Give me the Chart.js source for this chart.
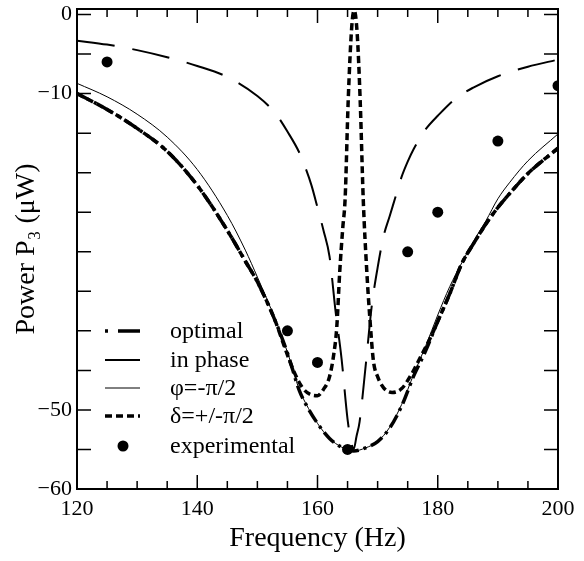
<!DOCTYPE html>
<html>
<head>
<meta charset="utf-8">
<script src="https://cdn.jsdelivr.net/npm/chart.js@4.4.1/dist/chart.umd.min.js"></script>
<style>
  html, body { margin: 0; padding: 0; background: #fff; }
</style>
</head>
<body>
<canvas id="chart" width="584" height="561"></canvas>
<script>
// values
const freqOptimal = [120, 125, 130, 135, 140, 145, 148, 150, 153, 155, 157, 158, 160, 162, 164, 166, 168, 170, 172, 174, 176, 178, 180, 182, 184, 186, 188, 190, 192, 195, 200];
const powerOptimal = [-10, -12, -14.4, -17.3, -21.6, -27.3, -31.2, -33.8, -38.8, -42.8, -47.6, -49.2, -51.7, -53.6, -54.7, -55.2, -54.8, -54, -52.3, -49.5, -45.7, -42.5, -38.8, -35.3, -31.5, -28.9, -26.5, -24.4, -22.6, -20.1, -16.9];

const freqPhase = [120, 125, 130, 135, 140, 145, 150, 153, 155, 157, 158, 159, 160, 161, 162, 163, 164, 165, 165.5, 166, 166.5, 167, 168, 169, 170, 171, 172, 173, 174, 175, 176, 178, 180, 183, 186, 190, 195, 200];
const powerPhase = [-3.3, -3.8, -4.5, -5.4, -6.5, -7.9, -10.3, -12.5, -14.8, -17.5, -19.4, -21.6, -24.4, -27.3, -30.6, -37.5, -43.5, -51.2, -53.6, -55, -53.3, -51.5, -44.5, -37, -32, -28, -25.5, -23, -20.5, -18.6, -17, -14.5, -12.8, -10.6, -9.2, -7.8, -6.6, -5.7];

const freqPhi = [120, 125, 130, 135, 140, 145, 148, 150, 153, 155, 157, 158, 160, 162, 164, 166, 168, 170, 172, 174, 176, 178, 180, 182, 184, 186, 188, 190, 192, 195, 200];
const powerPhi = [-8.7, -10.4, -12.6, -15.5, -19.6, -25.4, -29.8, -33.2, -38.6, -42.7, -47.5, -49.1, -51.7, -53.6, -54.7, -55.2, -54.8, -54, -52.2, -49.3, -45.5, -41.9, -38, -34.4, -31.4, -28.6, -26.1, -23.3, -21.2, -18.5, -15.1];

const freqDelta = [120, 125, 130, 135, 140, 145, 148, 150, 153, 154.5, 156, 157.5, 159, 160, 161, 162, 162.7, 163.2, 163.7, 164.2, 164.6, 165.1, 165.7, 166.1, 166.6, 167.1, 167.6, 168.2, 168.7, 169.3, 170, 171, 172.4, 174, 175.7, 177, 178.7, 180, 182, 184, 186, 188, 190, 192, 195, 200];
const powerDelta = [-10, -12, -14.4, -17.3, -21.6, -27.3, -31.2, -33.8, -38.8, -42, -45, -47.2, -48.1, -48.2, -47.4, -45.8, -43, -39.6, -32.5, -27, -23.2, -11, -1.5, 0.5, -2.4, -10.9, -23.2, -32.5, -38.3, -43.8, -45.8, -47.2, -47.8, -47.3, -45.4, -43.5, -41, -38.8, -35.3, -31.5, -28.9, -26.5, -24.4, -22.6, -20.1, -16.9];

const freqExp = [125, 155, 160, 165, 175, 180, 190, 200];
const powerExp = [-6, -40, -44, -55, -30, -25, -16, -9];

const seriesNames = ['optimal', 'in phase', 'φ=-π/2', 'δ=+/-π/2', 'experimental'];
const yTicks = [-60, -55, -50, -45, -40, -35, -30, -25, -20, -15, -10, -5, 0];
const labeledY = [0, -10, -50, -60];

const pts = (xs, ys) => xs.map((x, i) => ({x: x, y: ys[i]}));
const serif = 'Liberation Serif, Times New Roman, serif';

// box, inward ticks and the legend inside the plot
const frame = {
    id: 'frame',
    afterDatasetsDraw(chart) {
        const {ctx, chartArea: a, scales: {x, y}} = chart;
        ctx.save();
        ctx.strokeStyle = '#000';
        ctx.setLineDash([]);
        ctx.lineWidth = 1.5;
        ctx.beginPath();
        x.ticks.forEach(t => {
            if (t.value % 5) return;
            const px = x.getPixelForValue(t.value);
            const len = t.value % 20 === 0 ? 14 : 8;
            ctx.moveTo(px, a.bottom); ctx.lineTo(px, a.bottom - len);
            ctx.moveTo(px, a.top); ctx.lineTo(px, a.top + len);
        });
        y.ticks.forEach(t => {
            const py = y.getPixelForValue(t.value);
            ctx.moveTo(a.left, py); ctx.lineTo(a.left + 14, py);
            ctx.moveTo(a.right, py); ctx.lineTo(a.right - 14, py);
        });
        ctx.stroke();
        ctx.lineWidth = 2;
        ctx.strokeRect(a.left, a.top, a.right - a.left, a.bottom - a.top);

        // legend
        const rows = [331, 360, 388, 416, 446];
        const legendDash = [[3, 10, 22, 10], [], [], [7, 4], null];
        ctx.font = '24px ' + serif;
        ctx.fillStyle = '#000';
        ctx.textBaseline = 'middle';
        chart.data.datasets.forEach((ds, i) => {
            const ly = rows[i];
            if (legendDash[i] === null) {
                ctx.beginPath();
                ctx.arc(123, ly, ds.pointRadius, 0, Math.PI * 2);
                ctx.fill();
            } else {
                ctx.setLineDash(legendDash[i]);
                ctx.lineWidth = ds.borderWidth;
                ctx.beginPath();
                ctx.moveTo(105, ly); ctx.lineTo(140, ly);
                ctx.stroke();
            }
            ctx.setLineDash([]);
            ctx.fillText(ds.label, 170, ly + 1);
        });
        ctx.restore();
    }
};

const lineStyle = {
    borderColor: '#000',
    pointRadius: 0,
    fill: false,
    cubicInterpolationMode: 'monotone'
};

new Chart(document.getElementById('chart'), {
    type: 'line',
    data: {
        datasets: [
            {...lineStyle, label: seriesNames[0], data: pts(freqOptimal, powerOptimal), borderWidth: 3.5, borderDash: [14, 5, 3, 5]},
            {...lineStyle, label: seriesNames[1], data: pts(freqPhase, powerPhase), borderWidth: 2, borderDash: [38, 18]},
            {...lineStyle, label: seriesNames[2], data: pts(freqPhi, powerPhi), borderWidth: 1},
            {...lineStyle, label: seriesNames[3], data: pts(freqDelta, powerDelta), borderWidth: 3.5, borderDash: [7, 4]},
            {
                label: seriesNames[4],
                data: pts(freqExp, powerExp),
                showLine: false,
                pointRadius: 5.5,
                pointBackgroundColor: '#000',
                pointBorderWidth: 0,
                clip: 0
            }
        ]
    },
    options: {
        responsive: false,
        animation: false,
        layout: {padding: {top: 9, right: 26, left: 0, bottom: 0}},
        plugins: {legend: {display: false}, tooltip: {enabled: false}},
        scales: {
            x: {
                type: 'linear',
                min: 120,
                max: 200,
                grid: {display: false, drawTicks: false},
                border: {display: false},
                ticks: {
                    stepSize: 5,
                    autoSkip: false,
                    maxRotation: 0,
                    padding: 7,
                    color: '#000',
                    font: {family: serif, size: 22},
                    callback: v => v % 20 === 0 ? String(v) : ''
                },
                title: {display: true, text: 'Frequency (Hz)', color: '#000', font: {family: serif, size: 28}, padding: {top: 0, bottom: 6}},
                afterFit: s => { s.height = 72; s.paddingLeft = 0; s.paddingRight = 0; }
            },
            y: {
                min: -60,
                max: 0.7,
                grid: {display: false, drawTicks: false},
                border: {display: false},
                afterBuildTicks: s => { s.ticks = yTicks.map(v => ({value: v})); },
                ticks: {
                    autoSkip: false,
                    padding: 5,
                    color: '#000',
                    font: {family: serif, size: 22},
                    callback: v => labeledY.includes(v) ? (v < 0 ? '\u2212' + Math.abs(v) : '0') : ''
                },
                title: {display: true, text: 'Power P\u2083 (\u03bcW)', color: '#000', font: {family: serif, size: 28}, padding: {top: 10, bottom: 0}},
                afterFit: s => { s.width = 77; s.paddingTop = 0; s.paddingBottom = 0; }
            }
        }
    },
    plugins: [frame]
});
</script>
</body>
</html>
